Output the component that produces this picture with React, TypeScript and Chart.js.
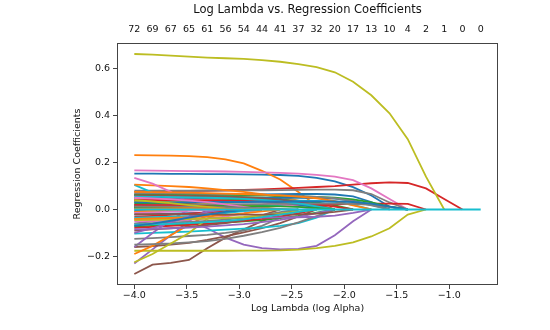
import { useEffect, useRef } from "react";
import { Chart, registerables } from "chart.js";

Chart.register(...registerables);

const chartTitle = "Log Lambda vs. Regression Coefficients";
const xTitle = "Log Lambda (log Alpha)";
const yTitle = "Regression Coefficients";

// log10(alpha) grid of the lasso path
const logAlphas = [
  -4.0, -3.8263, -3.6526, -3.4789, -3.3053, -3.1316, -2.9579, -2.7842, -2.6105, -2.4368,
  -2.2632, -2.0895, -1.9158, -1.7421, -1.5684, -1.3947, -1.2211, -1.0474, -0.8737, -0.7,
];
// number of non-zero coefficients at each alpha (top axis)
const nonzeroCounts = [72, 69, 67, 65, 61, 56, 54, 44, 41, 37, 32, 20, 17, 13, 10, 4, 2, 1, 0, 0];

const xTickValues = [-4.0, -3.5, -3.0, -2.5, -2.0, -1.5, -1.0];
const yTickValues = [-0.2, 0.0, 0.2, 0.4, 0.6];
const X_MIN = -4.165;
const X_MAX = -0.535;
const Y_MIN = -0.322;
const Y_MAX = 0.71;

const tab10 = ["#1f77b4", "#ff7f0e", "#2ca02c", "#d62728", "#9467bd", "#8c564b", "#e377c2", "#7f7f7f", "#bcbd22", "#17becf"];

// coefficient paths, one row per feature, values at each logAlpha
const coefPaths: number[][] = [
  [0.153,0.153,0.152,0.152,0.151,0.151,0.150,0.149,0.147,0.143,0.135,0.120,0.095,0.060,0.012,0,0,0,0,0],
  [0.232,0.231,0.230,0.228,0.223,0.214,0.197,0.165,0.128,0.075,0.015,0,0,0,0,0,0,0,0,0],
  [0.060,0.060,0.059,0.058,0.057,0.055,0.053,0.050,0.045,0.036,0.020,0,0,0,0,0,0,0,0,0],
  [0.075,0.076,0.077,0.079,0.080,0.082,0.084,0.086,0.089,0.092,0.096,0.100,0.106,0.112,0.116,0.113,0.090,0.045,0,0],
  [-0.060,-0.050,-0.045,-0.050,-0.080,-0.120,-0.150,-0.165,-0.170,-0.168,-0.155,-0.110,-0.050,0,0,0,0,0,0,0],
  [-0.275,-0.235,-0.228,-0.215,-0.165,-0.120,-0.085,-0.050,-0.020,0,0,0,0,0,0,0,0,0,0,0],
  [0.167,0.166,0.165,0.164,0.163,0.162,0.160,0.158,0.156,0.153,0.148,0.140,0.125,0.090,0.045,0,0,0,0,0],
  [0.080,0.080,0.080,0.080,0.081,0.081,0.082,0.082,0.083,0.084,0.085,0.085,0.082,0.066,0.030,0,0,0,0,0],
  [0.663,0.660,0.656,0.652,0.648,0.645,0.642,0.637,0.630,0.620,0.607,0.585,0.545,0.487,0.410,0.300,0.140,0,0,0],
  [0.105,0.072,0.040,0.012,0,0,0,0,0,0,0,0,0,0,0,0,0,0,0,0],
  [0.062,0.062,0.062,0.062,0.063,0.063,0.064,0.064,0.065,0.066,0.066,0.064,0.056,0.032,0,0,0,0,0,0],
  [0.106,0.103,0.100,0.096,0.090,0.083,0.075,0.065,0.054,0.038,0.018,0,0,0,0,0,0,0,0,0],
  [0.045,0.045,0.045,0.044,0.044,0.043,0.042,0.041,0.039,0.036,0.030,0.018,0,0,0,0,0,0,0,0],
  [0.005,0.006,0.007,0.008,0.009,0.010,0.012,0.014,0.016,0.018,0.020,0.022,0.024,0.025,0.025,0.024,0,0,0,0],
  [-0.230,-0.170,-0.110,-0.050,0,0,0,0,0,0,0,0,0,0,0,0,0,0,0,0],
  [-0.160,-0.156,-0.150,-0.142,-0.130,-0.115,-0.098,-0.080,-0.058,-0.030,0,0,0,0,0,0,0,0,0,0],
  [0.135,0.110,0.075,0.030,0,0,0,0,0,0,0,0,0,0,0,0,0,0,0,0],
  [-0.125,-0.122,-0.118,-0.113,-0.108,-0.100,-0.090,-0.070,-0.035,0,0,0,0,0,0,0,0,0,0,0],
  [-0.176,-0.176,-0.176,-0.176,-0.176,-0.176,-0.175,-0.175,-0.174,-0.171,-0.165,-0.155,-0.140,-0.115,-0.080,-0.022,0,0,0,0],
  [-0.103,-0.100,-0.097,-0.094,-0.090,-0.086,-0.082,-0.077,-0.070,-0.058,-0.035,0,0,0,0,0,0,0,0,0],
  [-0.022,-0.020,-0.018,-0.016,-0.013,-0.010,-0.005,0,0,0,0,0,0,0,0,0,0,0,0,0],
  [-0.190,-0.155,-0.110,-0.065,-0.025,0,0,0,0,0,0,0,0,0,0,0,0,0,0,0],
  [-0.072,-0.070,-0.067,-0.064,-0.060,-0.056,-0.051,-0.045,-0.037,-0.027,-0.013,0,0,0,0,0,0,0,0,0],
  [-0.078,-0.074,-0.070,-0.066,-0.061,-0.055,-0.048,-0.040,-0.030,-0.016,0,0,0,0,0,0,0,0,0,0],
  [-0.160,-0.100,-0.045,0,0,0,0,0,0,0,0,0,0,0,0,0,0,0,0,0],
  [0.030,0.029,0.027,0.025,0.022,0.017,0.009,0,0,0,0,0,0,0,0,0,0,0,0,0],
  [-0.050,-0.048,-0.046,-0.043,-0.038,-0.030,-0.017,0,0,0,0,0,0,0,0,0,0,0,0,0],
  [-0.150,-0.148,-0.145,-0.140,-0.135,-0.125,-0.112,-0.097,-0.078,-0.055,-0.028,0,0,0,0,0,0,0,0,0],
  [-0.225,-0.190,-0.145,-0.100,-0.040,0,0,0,0,0,0,0,0,0,0,0,0,0,0,0],
  [0.035,0.035,0.035,0.036,0.036,0.037,0.037,0.038,0.038,0.038,0.037,0.033,0.020,0,0,0,0,0,0,0],
  [0.050,0.050,0.050,0.050,0.050,0.050,0.050,0.050,0.050,0.050,0.049,0.046,0.038,0.020,0,0,0,0,0,0],
  [0.015,0.014,0.013,0.012,0.010,0.007,0.003,0,0,0,0,0,0,0,0,0,0,0,0,0],
  [0.065,0.065,0.064,0.064,0.063,0.062,0.061,0.060,0.058,0.056,0.054,0.050,0.043,0.030,0.012,0,0,0,0,0],
  [0.010,0.005,0,0,0,0,0,0,0,0,0,0,0,0,0,0,0,0,0,0],
  [-0.040,-0.040,-0.039,-0.039,-0.038,-0.037,-0.036,-0.035,-0.034,-0.033,-0.031,-0.026,-0.014,0,0,0,0,0,0,0],
  [-0.090,-0.085,-0.080,-0.074,-0.067,-0.058,-0.045,-0.025,0,0,0,0,0,0,0,0,0,0,0,0],
  [0.005,0,0,0,0,0,0,0,0,0,0,0,0,0,0,0,0,0,0,0],
  [0.070,0.070,0.069,0.068,0.067,0.066,0.065,0.063,0.061,0.058,0.054,0.048,0.036,0.018,0,0,0,0,0,0],
  [-0.010,-0.008,-0.006,-0.003,0,0,0,0,0,0,0,0,0,0,0,0,0,0,0,0],
  [0.020,0.020,0.020,0.020,0.020,0.019,0.018,0.017,0.015,0.012,0.007,0,0,0,0,0,0,0,0,0],
  [0.040,0.040,0.039,0.038,0.037,0.036,0.034,0.031,0.027,0.020,0.010,0,0,0,0,0,0,0,0,0],
  [0.075,0.074,0.073,0.072,0.070,0.068,0.066,0.063,0.060,0.055,0.048,0.036,0.018,0,0,0,0,0,0,0],
  [0.025,0.024,0.023,0.021,0.018,0.014,0.008,0,0,0,0,0,0,0,0,0,0,0,0,0],
  [-0.030,-0.027,-0.023,-0.018,-0.012,-0.005,0,0,0,0,0,0,0,0,0,0,0,0,0,0],
  [0.010,0,0,0,0,0,0,0,0,0,0,0,0,0,0,0,0,0,0,0],
  [0.060,0.060,0.059,0.058,0.057,0.055,0.052,0.048,0.042,0.032,0.017,0,0,0,0,0,0,0,0,0],
  [0.045,0.044,0.043,0.042,0.040,0.038,0.035,0.030,0.022,0.012,0,0,0,0,0,0,0,0,0,0],
  [-0.060,-0.058,-0.056,-0.053,-0.049,-0.043,-0.035,-0.024,-0.011,0,0,0,0,0,0,0,0,0,0,0],
  [0.035,0.034,0.033,0.031,0.028,0.024,0.018,0.010,0,0,0,0,0,0,0,0,0,0,0,0],
  [-0.035,-0.033,-0.030,-0.027,-0.022,-0.015,-0.007,0,0,0,0,0,0,0,0,0,0,0,0,0],
  [-0.005,0,0,0,0,0,0,0,0,0,0,0,0,0,0,0,0,0,0,0],
  [-0.010,-0.005,0,0,0,0,0,0,0,0,0,0,0,0,0,0,0,0,0,0],
  [0.010,0.007,0.003,0,0,0,0,0,0,0,0,0,0,0,0,0,0,0,0,0],
  [0.040,0.040,0.040,0.039,0.039,0.038,0.037,0.035,0.033,0.029,0.022,0.012,0,0,0,0,0,0,0,0],
  [-0.085,-0.083,-0.080,-0.077,-0.073,-0.068,-0.062,-0.054,-0.044,-0.031,-0.015,0,0,0,0,0,0,0,0,0],
  [0.015,0.012,0.009,0.006,0.003,0,0,0,0,0,0,0,0,0,0,0,0,0,0,0],
  [-0.015,-0.012,-0.009,-0.006,-0.003,0,0,0,0,0,0,0,0,0,0,0,0,0,0,0],
  [0.020,0.020,0.021,0.021,0.022,0.022,0.023,0.023,0.024,0.024,0.025,0.025,0.024,0.020,0.010,0,0,0,0,0],
  [-0.045,-0.044,-0.043,-0.041,-0.039,-0.036,-0.032,-0.026,-0.018,-0.008,0,0,0,0,0,0,0,0,0,0],
  [0.055,0.054,0.053,0.052,0.050,0.048,0.045,0.041,0.035,0.026,0.013,0,0,0,0,0,0,0,0,0],
  [0.030,0.030,0.030,0.031,0.031,0.032,0.032,0.033,0.033,0.034,0.034,0.034,0.032,0.025,0.012,0,0,0,0,0],
  [-0.040,-0.038,-0.036,-0.033,-0.029,-0.024,-0.017,-0.008,0,0,0,0,0,0,0,0,0,0,0,0],
  [0.008,0.009,0.010,0.011,0.012,0.013,0.014,0.014,0.013,0.011,0.006,0,0,0,0,0,0,0,0,0],
  [0.020,0.019,0.018,0.016,0.013,0.009,0.004,0,0,0,0,0,0,0,0,0,0,0,0,0],
  [-0.100,-0.080,-0.055,-0.030,-0.010,0,0,0,0,0,0,0,0,0,0,0,0,0,0,0],
  [-0.020,-0.020,-0.020,-0.021,-0.021,-0.022,-0.022,-0.022,-0.022,-0.021,-0.018,-0.010,0,0,0,0,0,0,0,0],
  [0.050,0.047,0.043,0.038,0.031,0.022,0.011,0,0,0,0,0,0,0,0,0,0,0,0,0],
  [0.012,0.012,0.012,0.011,0.011,0.010,0.008,0.006,0.003,0,0,0,0,0,0,0,0,0,0,0],
  [0.040,0.034,0.027,0.019,0.011,0.004,0,0,0,0,0,0,0,0,0,0,0,0,0,0],
  [-0.065,-0.063,-0.061,-0.058,-0.054,-0.049,-0.042,-0.033,-0.022,-0.010,0,0,0,0,0,0,0,0,0,0],
  [-0.070,-0.060,-0.048,-0.035,-0.022,-0.010,-0.003,0,0,0,0,0,0,0,0,0,0,0,0,0],
  [0.003,0.004,0.005,0.006,0.005,0.003,0.001,0,0,0,0,0,0,0,0,0,0,0,0,0],
  [0,0,0,0,0,0,0,0,0,0,0,0,0,0,0,0,0,0,0,0],
  [0,0,0,0,0,0,0,0,0,0,0,0,0,0,0,0,0,0,0,0],
  [0,0,0,0,0,0,0,0,0,0,0,0,0,0,0,0,0,0,0,0],
  [0,0,0,0,0,0,0,0,0,0,0,0,0,0,0,0,0,0,0,0],
  [0,0,0,0,0,0,0,0,0,0,0,0,0,0,0,0,0,0,0,0],
  [0,0,0,0,0,0,0,0,0,0,0,0,0,0,0,0,0,0,0,0],
  [0,0,0,0,0,0,0,0,0,0,0,0,0,0,0,0,0,0,0,0],
  [0,0,0,0,0,0,0,0,0,0,0,0,0,0,0,0,0,0,0,0],
];

const fmt = (v: number) => Number(v).toFixed(1).replace("-", "\u2212");

const framePlugin = {
  id: "frame",
  afterDatasetsDraw(chart: any) {
    const { ctx, chartArea } = chart;
    const l = Math.round(chartArea.left) + 0.5;
    const t = Math.round(chartArea.top) + 0.5;
    const r = Math.round(chartArea.right) - 0.5;
    const b = Math.round(chartArea.bottom) - 0.5;
    ctx.save();
    ctx.strokeStyle = "#444";
    ctx.lineWidth = 1;
    ctx.strokeRect(l, t, r - l, b - t);
    ctx.restore();
  },
};

export default function App() {
  const ref = useRef<HTMLCanvasElement>(null);
  useEffect(() => {
    const canvas = ref.current;
    if (!canvas) return;
    Chart.defaults.font.family = "'DejaVu Sans', sans-serif";
    Chart.defaults.color = "#111";
    const last = coefPaths.length - 1;
    const datasets = coefPaths.map((path, i) => ({
      label: `coef ${i}`,
      data: path.map((v, j) => ({ x: logAlphas[j], y: v })),
      borderColor: tab10[i % 10],
      backgroundColor: tab10[i % 10],
      borderWidth: 1.8,
      pointRadius: 0,
      pointHoverRadius: 0,
      fill: false,
      tension: 0,
      order: -i,
      // segments lying exactly on zero are hidden beneath the last-drawn series
      segment: {
        borderColor: (ctx: any) =>
          i !== last && ctx.p0.parsed.y === 0 && ctx.p1.parsed.y === 0 ? "rgba(0,0,0,0)" : undefined,
      },
    }));
    const tickFont = { size: 9.5, lineHeight: 1.2 };
    const chart = new Chart(canvas, {
      type: "line",
      data: { datasets },
      options: {
        animation: false,
        responsive: false,
        events: [],
        layout: { padding: { top: 0, left: 72.3, right: 52, bottom: 15.3 } },
        plugins: {
          legend: { display: false },
          tooltip: { enabled: false },
          title: {
            display: true,
            text: chartTitle,
            fullSize: false,
            color: "#111",
            font: { size: 11.5, weight: "normal", lineHeight: 1.2 },
            padding: { top: 3.1, bottom: 0 },
          },
        },
        scales: {
          x: {
            type: "linear",
            position: "bottom",
            min: X_MIN,
            max: X_MAX,
            afterBuildTicks: (s: any) => {
              s.ticks = xTickValues.map((v) => ({ value: v }));
            },
            afterFit: (s: any) => {
              s.height = 29.7;
            },
            ticks: { font: tickFont, padding: 1.3, maxRotation: 0, autoSkip: false, color: "#111", callback: (v: any) => fmt(v) },
            grid: { drawOnChartArea: false, drawTicks: true, tickLength: 4, color: "#444" },
            border: { display: false },
            title: { display: true, text: xTitle, font: tickFont, padding: 0, color: "#111" },
          },
          x2: {
            type: "linear",
            axis: "x",
            position: "top",
            min: X_MIN,
            max: X_MAX,
            afterBuildTicks: (s: any) => {
              s.ticks = logAlphas.map((v) => ({ value: v }));
            },
            afterFit: (s: any) => {
              s.height = 26.1;
            },
            ticks: {
              font: tickFont,
              padding: 7.3,
              maxRotation: 0,
              autoSkip: false,
              color: "#111",
              callback: (_v: any, idx: number) => String(nonzeroCounts[idx]),
            },
            grid: { display: false, drawOnChartArea: false, drawTicks: false },
            border: { display: false },
          },
          y: {
            type: "linear",
            position: "left",
            min: Y_MIN,
            max: Y_MAX,
            afterBuildTicks: (s: any) => {
              s.ticks = yTickValues.map((v) => ({ value: v }));
            },
            afterFit: (s: any) => {
              s.width = 44.7;
            },
            ticks: { font: tickFont, padding: 3, color: "#111", callback: (v: any) => fmt(v) },
            grid: { drawOnChartArea: false, drawTicks: true, tickLength: 4, color: "#444" },
            border: { display: false },
            title: { display: true, text: yTitle, font: tickFont, padding: 0, color: "#111" },
          },
        },
      } as any,
      plugins: [framePlugin],
    });
    return () => chart.destroy();
  }, []);
  return (
    <div style={{ position: "fixed", left: 0, top: 0, width: 550, height: 330, background: "#fff" }}>
      <canvas ref={ref} width={550} height={330} style={{ display: "block" }} />
    </div>
  );
}
